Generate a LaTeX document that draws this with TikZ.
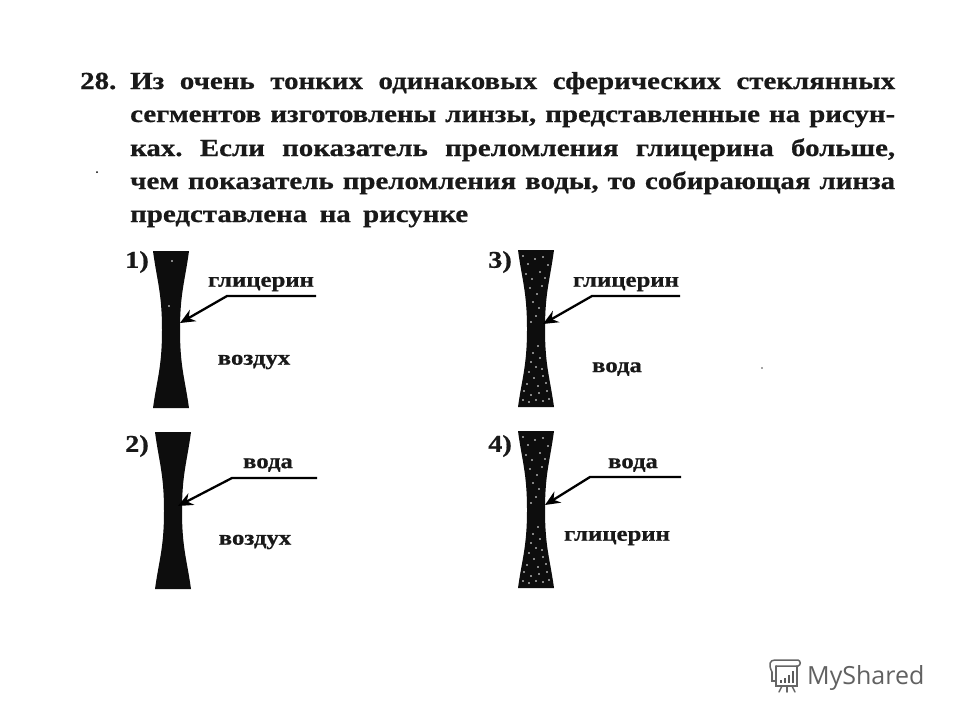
\documentclass[tikz,border=0pt]{standalone}
\usepackage{fontspec}
\setmainfont{Liberation Serif}
\newfontfamily\heavy[BoldFeatures={FakeStretch=1.18,FakeBold=0.7}]{Liberation Serif}
\newfontfamily\wmfont{Open Sans}
\frenchspacing
\usetikzlibrary{arrows.meta}
\tikzset{
  body/.style={font=\heavy\bfseries\fontsize{24.5}{26}\selectfont,anchor=base west,inner sep=0pt,text=black!90},
  lab/.style={font=\heavy\bfseries\fontsize{21}{22}\selectfont,inner sep=0pt,text=black!90},
  num/.style={font=\heavy\bfseries\fontsize{24}{25}\selectfont,inner sep=0pt,text=black!90},
  leader/.style={draw=black,line width=2.3pt,-{Stealth[length=15pt,width=13pt,inset=5pt]}},
  speck/.style={fill=white,draw=none},
}
\newcommand{\lensbody}[2]{% x-left, y-top
  \fill[black!95] (#1,#2) -- (#1+36,#2)
    .. controls (#1+32,#2+30) and (#1+27,#2+42) .. (#1+27,#2+79)
    .. controls (#1+27,#2+116) and (#1+32,#2+128) .. (#1+36,#2+157)
    -- (#1,#2+157)
    .. controls (#1+4,#2+128) and (#1+9,#2+116) .. (#1+9,#2+79)
    .. controls (#1+9,#2+42) and (#1+4,#2+30) .. (#1,#2);
}
\newcommand{\specks}[2]{% x-left, y-top : scattered light grains
  \foreach \dx/\dy in {5/6,10/14,17/9,25/7,30/15,8/24,14/29,22/22,27/28,12/38,19/44,24/36,15/52,21/58,
     18/66,13/72,20/96,15/103,22/108,13/112,18/117,24/119,11/122,16/128,25/126,9/134,20/136,28/133,
     6/141,13/145,21/143,29/141,5/150,11/152,18/150,25/151,31/149}{
    \fill[speck] (#1+\dx,#2+\dy) circle (0.9);
  }
}
\begin{document}
\begin{tikzpicture}[x=1pt,y=-1pt]
\useasboundingbox (0,0) rectangle (960,720);
\fill[white] (0,0) rectangle (960,720);

% problem text
\node[body] (n28) at (80,89) {28.};
\node[body] (l1) at (130,89) {\makebox[765pt][s]{Из очень тонких одинаковых сферических стеклянных}};
\node[body] (l2) at (130,122) {\makebox[765pt][s]{сегментов изготовлены линзы, представленные на рисун-}};
\node[body] (l3) at (130,156) {\makebox[765pt][s]{ках. Если показатель преломления глицерина больше,}};
\node[body] (l4) at (130,189) {\makebox[765pt][s]{чем показатель преломления воды, то собирающая линза}};
\node[body] (l5) at (130,222) {\makebox[338pt][s]{представлена на рисунке}};

% stray print specks
\fill[black] (97,172) circle (1);
\fill[black!70] (762,368) circle (0.8);

% lenses
\lensbody{153}{251}
\lensbody{155}{432}
\lensbody{518}{250}
\lensbody{518}{431}
\specks{518}{250}
\specks{518}{431}
\fill[speck] (172,261) circle (0.9);
\fill[speck] (169,306) circle (0.9);

% numbers
\node[num] (p1) at (137,262) {1)};
\node[num] (p2) at (137,446) {2)};
\node[num] (p3) at (500,262) {3)};
\node[num] (p4) at (500,446) {4)};

% labels
\node[lab] (a1) at (261,284) {глицерин};
\node[lab] (b1) at (254,362) {воздух};
\node[lab] (a2) at (268,465) {вода};
\node[lab] (b2) at (255,542) {воздух};
\node[lab] (a3) at (626,284) {глицерин};
\node[lab] (b3) at (617,369) {вода};
\node[lab] (a4) at (633,465) {вода};
\node[lab] (b4) at (617,538) {глицерин};

% leader lines
\coordinate (s1) at (316,296); \coordinate (k1) at (227,296); \coordinate (t1) at (180,323);
\coordinate (s2) at (317,478); \coordinate (k2) at (232,478); \coordinate (t2) at (178,506);
\coordinate (s3) at (680,296); \coordinate (k3) at (592,296); \coordinate (t3) at (543,324);
\coordinate (s4) at (681,477); \coordinate (k4) at (590,477); \coordinate (t4) at (545,505);
\draw[leader] (s1) -- (k1) -- (t1);
\draw[leader] (s2) -- (k2) -- (t2);
\draw[leader] (s3) -- (k3) -- (t3);
\draw[leader] (s4) -- (k4) -- (t4);

% watermark
\begin{scope}[draw=black!60,line width=1.5pt,line cap=round]
  \draw (772,672) .. controls (768,664) and (770,660) .. (775,660) -- (798,660) .. controls (801,661) and (801,665) .. (798,666) -- (776,666);
  \draw (776,666) -- (776,686) -- (797,686) -- (797,666);
  \draw (772,672) -- (772,681) -- (776,681);
  \draw (782,686) -- (779,692);
  \draw (787,686) -- (787,692);
  \draw (792,686) -- (795,692);
  \fill[black!65] (780,680) rectangle (782,683);
  \fill[black!65] (784,678) rectangle (786,683);
  \fill[black!65] (788,675) rectangle (790,683);
  \fill[black!65] (792,671) rectangle (794,683);
\end{scope}
\node[font=\wmfont\fontsize{25}{27}\selectfont,text=black!62,anchor=base west,inner sep=0pt] (wm) at (807,684) {MyShared};
\end{tikzpicture}
\end{document}
